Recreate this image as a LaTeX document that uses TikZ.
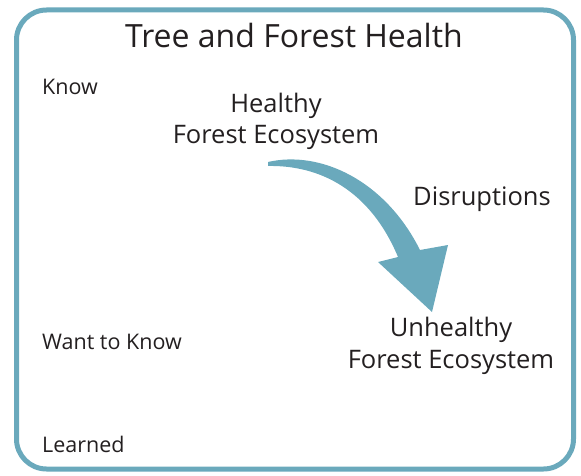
\documentclass[tikz,border=0pt]{standalone}
\usepackage{fontspec}
\setmainfont{Open Sans}
\usepackage[dvipsnames,svgnames]{xcolor}
\usepackage{tikz}
\usetikzlibrary{positioning}
\definecolor{forestblue}{HTML}{6AA9BC}
\definecolor{inkgray}{HTML}{231F20}
\tikzset{tag/.style={anchor=base west,inner sep=0pt,text=inkgray,font=\fontsize{21.5}{24}\selectfont},
         stage/.style={anchor=base,inner sep=0pt,align=center,text=inkgray,font=\fontsize{25.5}{32}\selectfont}}

\begin{document}
\begin{tikzpicture}[x=1pt,y=-1pt] %按像素定位, y 轴朝下
    \useasboundingbox (0,0) rectangle (581,476);
    \draw[forestblue,line width=5pt,rounded corners=30pt] (16.5,10) rectangle (573.5,469); % 外框
    \node[anchor=base,inner sep=0pt,text=inkgray,font=\fontsize{32}{38}\selectfont] (title) at (294,48) {Tree and Forest Health};
    \node[tag] (know) at (42,95) {Know};
    \node[tag] (want) at (42,349) {Want to Know};
    \node[tag] (learned) at (42,452) {Learned};
    \node[stage] (healthy) at (276,144) {Healthy\\Forest Ecosystem};
    \node[stage] (unhealthy) at (451,368) {Unhealthy\\Forest Ecosystem};
    \node[stage] (disrupt) at (482,205) {Disruptions};
    % 弯曲的粗箭头
    \fill[forestblue] (268,162) .. controls (320,150) and (385,180) .. (420,250)
        -- (448,245) -- (432,312) -- (378,262) -- (398,257)
        .. controls (370,190) and (320,165) .. (268,166) -- cycle;
\end{tikzpicture}
\end{document}
